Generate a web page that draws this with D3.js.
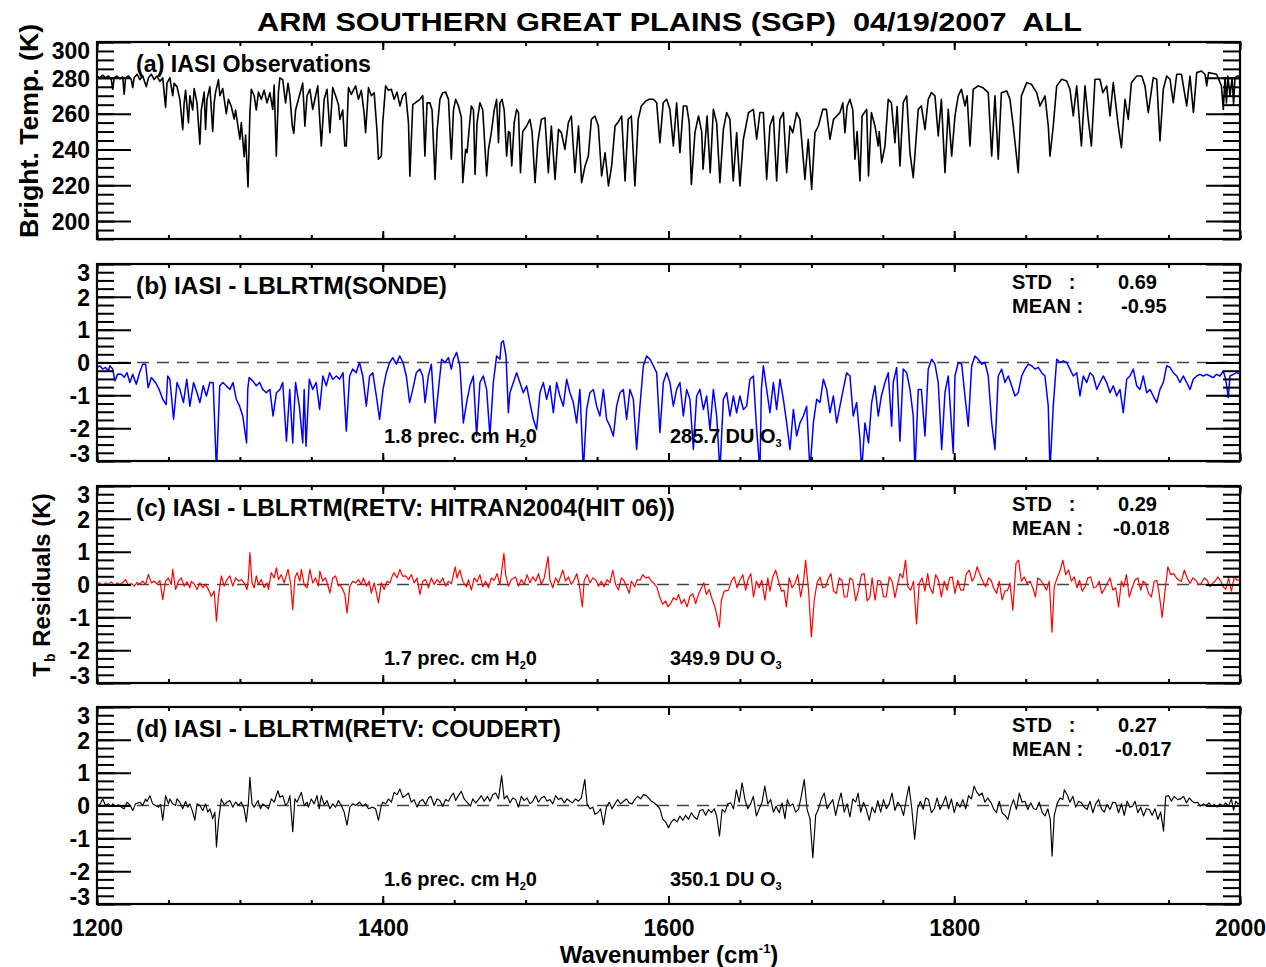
<!DOCTYPE html>
<html><head><meta charset="utf-8">
<script src="https://cdn.jsdelivr.net/npm/d3@7"></script>
<style>
html,body{margin:0;padding:0;background:#fff;}
svg{display:block;font-family:"Liberation Sans",Arial,Helvetica,sans-serif;font-weight:bold;}
</style></head><body>
<svg id="chart" width="1266" height="967"></svg>
<script>
// ---------------- DATA ----------------
const titleText = "ARM SOUTHERN GREAT PLAINS (SGP)  04/19/2007  ALL";
const wavenumberTicks = [1200, 1400, 1600, 1800, 2000];
const wavenumberDomain = [1200, 2000];
const wavenumberMinorStep = 50;
const tempTicks = [200, 220, 240, 260, 280, 300];
const tempDomain = [190, 300];
const tempMinorStep = 5;
const residualTicks = [-3, -2, -1, 0, 1, 2, 3];
const residualDomain = [-3, 3];
const residualMinorStep = 0.25;
const panelLabels = ["(a) IASI Observations", "(b) IASI - LBLRTM(SONDE)", "(c) IASI - LBLRTM(RETV: HITRAN2004(HIT 06))", "(d) IASI - LBLRTM(RETV: COUDERT)"];
const stdValues = [null, "0.69", "0.29", "0.27"];
const meanValues = [null, "-0.95", "-0.018", "-0.017"];
const waterVapor = [null, "1.8", "1.7", "1.6"];
const ozoneDU = [null, "285.7", "349.9", "350.1"];
const seriesColors = ["#000000", "#0000ff", "#ff0000", "#000000"];

// (a) IASI observed brightness temperature [wavenumber, K]
const obsSpectrum = [
[1200,281],[1202,280],[1204,281.5],[1206,280],[1208,281],[1210,279],[1211,273.6],[1212,280],[1214,281],[1216,279.5],[1218,280.5],[1219,270.8],[1220,280],[1222,281],[1224,279],[1225,274.5],[1226,280],[1228,282],[1230,279],[1232,281],[1234.5,275],[1236,280],[1238,282],[1240,279],[1242,281],[1244,278],[1246,280],[1248,263.5],[1249,277],[1251,280],[1253,270],[1254,277],[1256,275],[1258,268],[1260,251],[1261,266],[1262,273],[1264,255],[1265,270],[1267,262],[1268,274],[1270,266],[1272,243],[1273,262],[1275,272],[1276,251.2],[1277,268],[1279,275],[1281,250],[1282,266],[1283,272],[1285,279],[1286,270],[1288,274],[1290.5,260],[1292,268],[1294,264],[1296,257],[1297,262],[1300,245.7],[1301,255],[1303,236],[1304,248],[1305.7,219],[1307,260],[1308,273.6],[1310,270],[1311.5,262],[1313,272],[1315,268],[1317,273],[1319,266],[1321,271.7],[1323,262.4],[1324,276],[1325.5,236.3],[1327,272],[1328,280],[1330,279],[1332,266],[1333.7,277],[1335,270],[1336.7,253],[1337.7,249],[1339,262],[1341,268],[1344,277],[1345.5,253],[1347,270],[1349,273.6],[1351,262.4],[1353,270],[1354.5,275.5],[1357,242],[1359,268],[1361,273.6],[1363,249.4],[1365,274.5],[1367,270],[1369,265],[1370,256.8],[1372,262],[1373.4,242],[1374.5,241.9],[1376,274.5],[1378,270.8],[1381,275.5],[1383,268],[1385,273],[1387,260],[1388,249.4],[1390,274.5],[1392,270],[1394,271.7],[1396,250],[1397,234.5],[1399,236.3],[1400,255],[1402,275.5],[1404,273],[1406,273.6],[1408,268],[1410,272],[1412,264.3],[1414,270],[1416,271.7],[1418,255],[1419,225],[1421,265],[1423,266.1],[1426,268],
[1428,270],[1429.5,236.3],[1431,266],[1433,266.1],[1434.5,262],[1436.6,223.3],[1438,250],[1440,268],[1442,271.7],[1444,272],[1446,268],[1448,234.5],[1449.5,262],[1451,268],[1453,264.3],[1455,258],[1456,221.5],[1458,240],[1459,238.2],[1461,256],[1462,264.3],[1463.5,262],[1464.6,226.1],[1466,255],[1468,266.1],[1470,262],[1472.7,225.2],[1474,240],[1476,249.4],[1478,262],[1479.7,268],[1481,243.8],[1482,266],[1483.5,268],[1485,262],[1486.7,236.3],[1488,250],[1489,249.4],[1490.3,230.8],[1492,255],[1493.7,262.4],[1495,260.6],[1496.4,227],[1498,250],[1500.7,253.1],[1503,256.8],[1504.5,250],[1506.6,221.5],[1508.5,243.8],[1511,256.8],[1513.5,257.7],[1515.9,227],[1518,253.1],[1520.6,223.3],[1523,251.2],[1525,249.4],[1527.5,240],[1529.9,255],[1532,258.7],[1534.5,227],[1537,253.1],[1539.2,221.5],[1541.6,230.8],[1543.9,236.3],[1546,256.8],[1548.5,258.7],[1550.9,253.1],[1553.2,225.2],[1555.6,238.2],[1558,219.6],[1560.2,230.8],[1562.6,253.1],[1565,255.5],[1567.2,258.7],[1569.6,222.4],[1571.8,256.8],[1574,258.7],[1576.5,219.6],[1578.8,256.8],[1581,264.3],[1584,267],[1586.6,268],[1589.4,268],[1591.7,266.1],[1594,243.8],[1596.3,266.1],[1598.7,268],[1601,262.4],[1603.4,241.9],[1605.7,266.1],[1608,238.2],[1610.4,264.3],[1612.7,264.3],[1614.5,255],[1616,220.5],[1618.5,249.4],[1621,258.7],[1623.2,250],[1624.2,229],[1627,258.7],[1629.2,227],[1631.4,262.4],[1633.7,255],[1636,221.5],[1638.4,251.2],[1640.7,260.6],[1643,256.8],[1645.3,222.4],[1647.7,249.4],[1650,219.6],[1652.4,245.7],[1656,260.6],[1659.4,262.4],[1661.7,245.7],[1664,260.6],[1666.4,260.6],[1668.7,223.3],[1671,253.1],[1673.4,258.7],[1675.7,222.4],[1678,256.8],[1680.4,260.6],[1682.7,227],[1685,253.1],[1687,249.4],[1689.7,260.6],[1692,256.8],[1695.5,223.3],[1697.8,245.7],[1700.2,217.7],[1702.5,249.4],[1704.9,253.1],[1708,262.4],[1710.5,262.4],[1713,245.7],[1715.5,256.8],[1720,260.6],
[1722,266],[1723.5,249.4],[1725,264],[1727,268],[1729,262],[1730.5,234.5],[1732,250],[1734,222.4],[1735.5,258.7],[1738.7,262.4],[1740,225.2],[1742,260.6],[1744.5,253.1],[1746.8,241.9],[1747.5,250],[1749.2,232.6],[1751.5,241.9],[1753.8,268],[1756,266.1],[1758.5,243.8],[1760,264],[1762,230.8],[1764.3,266.1],[1766.7,269.9],[1769,238.2],[1771.3,224.2],[1774.8,262.4],[1777,264.3],[1779.5,251.2],[1781.8,268],[1784,271.7],[1786.5,269.9],[1788.8,247.5],[1791,268],[1793.5,227],[1795.8,262.4],[1798.2,236.3],[1800.5,258.7],[1802.8,269.9],[1805,273.6],[1807.5,264.3],[1809,270],[1811,241.9],[1813.3,273.6],[1816.8,275.5],[1820,274.5],[1823.8,271.7],[1826.2,236.3],[1828.5,269.9],[1830.8,234.5],[1833,271.7],[1836.7,272.7],[1839,268],[1841.3,253.1],[1844.8,227],[1847,269.9],[1850.7,277.3],[1854,276.4],[1857.7,271.7],[1860,264.3],[1863.5,269.9],[1865.8,253.1],[1867,236.3],[1869.3,253.1],[1871.7,275.5],[1875.2,279.2],[1878.7,278.2],[1881,273.6],[1883.3,258.7],[1885.7,275.5],[1889,241.9],[1891.5,275.5],[1893.8,256.8],[1896,241.9],[1898.5,279.2],[1902,279.2],[1904,271.7],[1906.7,275.5],[1909,258.7],[1911.3,277.3],[1914.8,253.1],[1917,241],[1919.5,268],[1921.8,256.8],[1924,277.3],[1927.7,281],[1931.2,281],[1933.5,275.5],[1935.8,260.6],[1939.3,280.1],[1941.7,279.2],[1944,244.7],[1946.3,273.6],[1948.7,281],[1951,279.2],[1953.3,266.1],[1955.7,282],[1959,282],[1962.7,264.3],[1965,281],[1967.4,260.6],[1969.7,282.9],[1973,283.8],[1975.5,282],[1976.7,275.5],[1978,282.9],[1983.6,282],[1987,275.5],[1988.3,262.4],[1989.5,280],[1990.5,266],[1991.5,281],[1993,270],[1994.5,280],[1995.5,265],[1996.5,280],[1998,281],[2000,281]
];

// (b) IASI - LBLRTM(SONDE) residual [wavenumber, K]
const sondeResidual = [
[1200,-0.15],[1202,-0.1],[1204,-0.2],[1206,-0.15],[1208,-0.26],[1209,-0.1],[1211,-0.2],[1212.6,-0.56],[1214.5,-0.35],[1217,-0.36],[1219,-0.45],[1221,-0.31],[1223,-0.61],[1225,-0.36],[1227.5,-0.66],[1229.8,-0.31],[1232,-0.05],[1234,-0.05],[1235.8,-0.77],[1238,-0.46],[1241,-0.61],[1243.5,-0.82],[1246,-1.12],[1248.4,-1.28],[1249.5,-0.41],[1251,-0.51],[1253.6,-1.73],[1256,-0.61],[1258,-0.82],[1260.5,-1.22],[1262.8,-0.51],[1265,-1.33],[1267.6,-0.61],[1270,-0.92],[1272,-1.22],[1274.3,-0.71],[1276.6,-1.02],[1279,-0.61],[1281.3,-0.61],[1283.6,-3.3],[1285.9,-0.71],[1288,-0.61],[1290.5,-0.71],[1293,-0.82],[1295.2,-0.61],[1297.5,-1.12],[1299.8,-1.33],[1302,-1.63],[1304.7,-2.45],[1305.5,-0.82],[1306.5,-0.46],[1309,-0.56],[1311.5,-0.71],[1313.8,-0.61],[1316,-0.82],[1318.5,-0.92],[1321,-0.82],[1323.2,-1.63],[1325.6,-0.92],[1328,-0.82],[1330,-0.61],[1332.6,-2.4],[1334.9,-0.82],[1337,-2.45],[1338,-1.43],[1339,-0.61],[1341.6,-1.33],[1344,-2.45],[1345,-0.82],[1346.3,-2.55],[1348.6,-0.51],[1351,-0.82],[1353.4,-0.61],[1355.8,-1.43],[1358.1,-0.41],[1360.5,-0.71],[1362.8,-0.31],[1365,-0.51],[1367.5,-0.41],[1369.8,-0.51],[1372.2,-0.31],[1374.5,-2.09],[1376.8,-0.41],[1379,-0.2],[1381.4,-0.31],[1383.7,0],[1386,-0.41],[1388.5,-1.33],[1390.8,-0.41],[1393,-0.31],[1395.5,-1.02],[1397.8,-1.73],[1400.2,-0.82],[1402.5,-0.31],[1404.8,0],[1407,0.15],[1409.5,-0.05],[1411.8,0.2],[1414.2,0],[1416.5,-0.41],[1418.8,-1.22],[1421,-0.82],[1423.5,-0.31],[1426,-0.2],
[1428,-0.41],[1429.6,-1.22],[1431.9,-0.41],[1434,-0.05],[1436.6,-1.84],[1439,-0.82],[1441.2,0.1],[1443.6,0],[1446,0.15],[1448,-0.2],[1449.4,0.1],[1451.7,0.31],[1454,-0.1],[1456.4,-1.84],[1458.7,-1.22],[1461,-0.71],[1463.4,-0.41],[1465.7,-2.24],[1468,-0.61],[1470.4,-0.41],[1472.7,-0.82],[1475,-2.24],[1477.4,-0.61],[1479.7,0.2],[1482,0.1],[1483,0.61],[1484.4,0.66],[1486.3,0.2],[1487.9,-1.53],[1489,-0.92],[1491.4,-0.61],[1493.7,-0.31],[1496,-0.61],[1498.4,-0.92],[1500.7,-0.71],[1503,-1.22],[1505.4,-1.73],[1507.7,-2.04],[1510,-0.92],[1512.4,-0.61],[1514.7,-1.12],[1517,-0.71],[1519.4,-1.53],[1521.7,-0.61],[1524,-1.02],[1526.4,-1.33],[1528.7,-0.51],[1531,-0.92],[1533.4,-1.22],[1535.7,-1.84],[1538,-0.82],[1540.4,-3.3],[1542.7,-1.43],[1545,-0.92],[1547.4,-0.82],[1549.7,-1.33],[1552,-1.63],[1554.4,-0.82],[1556.7,-1.73],[1559,-1.94],[1561.4,-2.24],[1563.7,-1.33],[1566,-0.92],[1568.4,-0.82],[1570.7,-1.73],[1573,-0.82],[1575.4,-1.12],[1577.7,-2.65],[1580,-1.33],[1582.4,-0.1],[1584.7,0.2],[1587,0.1],[1589.4,-0.1],[1591.7,-0.31],[1594,-2.14],[1596.4,-0.61],[1598.7,-0.31],[1601,-0.61],[1603.4,-1.33],[1605.7,-0.82],[1608,-0.61],[1610.4,-1.63],[1612.7,-0.82],[1615,-1.12],[1617.4,-2.65],[1619.7,-1.02],[1622,-0.82],[1624.4,-1.43],[1626.7,-1.02],[1629,-2.04],[1631.4,-0.82],[1633.7,-1.63],[1636,-3.3],[1638.4,-1.12],[1640.7,-0.92],[1643,-1.63],[1645.4,-1.02],[1647.7,-1.53],[1650,-1.02],[1652.4,-1.43],[1654.7,-1.33],[1657,-0.51],[1659.4,-0.41],[1661.7,-2.04],[1664,-3.3],[1665,-0.82],[1666.4,-0.1],[1668.7,-0.82],[1671,-1.53],[1673.4,-0.61],[1675.7,-1.43],[1678,-0.51],[1680.4,-1.12],[1682.7,-1.84],[1685,-2.65],[1687.4,-1.43],[1689.7,-2.24],[1692,-1.84],[1694.4,-1.63],[1696.7,-1.33],[1699,-3.3],[1701.4,-1.84],[1703.7,-1.12],[1706,-1.22],[1708.4,-0.51],[1710.7,-0.82],[1713,-1.53],[1715.4,-1.02],[1717.7,-1.84],[1720,-1.33],
[1722.3,-0.82],[1724.7,-0.31],[1727,-0.41],[1729.3,-1.63],[1731.7,-1.22],[1734,-2.35],[1735.2,-3.3],[1737.5,-1.84],[1740,-2.45],[1742.2,-1.22],[1744.5,-0.71],[1746.8,-1.63],[1749,-1.02],[1751.5,-0.61],[1753.8,-0.31],[1756.2,-1.94],[1757.3,-0.61],[1759.7,-0.15],[1762,-2.4],[1764.3,-0.2],[1766.7,-0.31],[1769,-0.82],[1771.3,-1.63],[1772.5,-3.3],[1774.8,-0.82],[1777,-0.82],[1779.5,-2.24],[1781.8,-0.2],[1784.2,0.1],[1786.5,-0.05],[1788.8,-0.61],[1791.2,-2.65],[1793.5,-0.92],[1795.8,-0.41],[1799.3,-2.76],[1800.5,-0.41],[1802.8,0],[1805.2,-0.05],[1807.5,-1.02],[1809.8,-1.94],[1812.2,-0.1],[1814.5,0.2],[1816.8,0.1],[1819.2,-0.05],[1821.5,0],[1823.8,-0.41],[1826.2,-1.84],[1828.5,-2.65],[1830.8,-0.41],[1833.2,-0.2],[1835.5,-0.61],[1837.8,-0.41],[1840.2,-0.71],[1842.5,-1.02],[1844.8,-0.92],[1847.2,-0.41],[1849.5,-0.2],[1851.8,-0.05],[1854.2,-0.1],[1856.5,-0.2],[1858.8,-0.15],[1861.2,-0.31],[1863.5,-0.41],[1865.8,-1.33],[1867,-3.3],[1869.3,-1.33],[1871.7,0.1],[1874,0],[1876.3,0.05],[1878.7,0],[1881,-0.2],[1883.3,-0.41],[1885.7,-0.31],[1888,-1.02],[1890.3,-0.41],[1892.7,-0.61],[1895,-0.31],[1897.3,-0.41],[1899.7,-0.82],[1902,-0.61],[1904.3,-0.41],[1906.7,-0.61],[1909,-0.92],[1911.3,-0.71],[1913.7,-1.02],[1916,-0.82],[1918.3,-1.53],[1920.7,-0.51],[1923,-0.41],[1925.3,-0.2],[1927.7,-0.71],[1930,-0.82],[1932.3,-0.41],[1934.7,-0.92],[1937,-0.82],[1939.3,-1.02],[1941.7,-1.22],[1944,-0.82],[1946.3,-0.61],[1948.7,-0.1],[1951,-0.15],[1953.3,-0.31],[1955.7,-0.41],[1958,-0.61],[1960.3,-0.41],[1962.7,-0.61],[1965,-0.82],[1967.3,-0.51],[1969.7,-0.41],[1972,-0.36],[1974.3,-0.41],[1976.7,-0.36],[1979,-0.41],[1981.3,-0.46],[1983.6,-0.36],[1986,-0.41],[1988.3,-0.26],[1990,-0.51],[1991.8,-1.07],[1993,-0.41],[1995.3,-0.36],[1997.7,-0.31],[2000,-0.36]
];

// (c) IASI - LBLRTM(RETV: HITRAN2004) residual [wavenumber, K]
const hitranResidual = [
[1200,0.02],[1202,0.05],[1204,-0.02],[1206,0.05],[1208,0],[1210,0.08],[1212,-0.03],[1214,0.05],[1216,0],[1218,0.06],[1220,0.15],[1222,-0.02],[1224,0.03],[1226,-0.05],[1228,0.06],[1230,0.02],[1232,0.1],[1234,0],[1236,0.31],[1238,0.05],[1240,0.1],[1242,0.02],[1244,0.12],[1246,-0.46],[1248,0.1],[1250,0.2],[1252,0],[1253,0.46],[1255,-0.15],[1257,0.1],[1259,0.2],[1261,-0.05],[1263,0.08],[1265,-0.1],[1266,0.1],[1268,0.02],[1270,-0.15],[1272,0.05],[1274,-0.1],[1276,0],[1278,-0.15],[1280,-0.36],[1282,-0.2],[1283.6,-1.12],[1285,-0.36],[1287,0.26],[1289,-0.05],[1291,0.15],[1293,0.26],[1295,-0.05],[1297,0.2],[1299,0.1],[1301,0.15],[1303,0.05],[1305,-0.15],[1306,0.2],[1307,0.97],[1308.5,0.05],[1310,-0.1],[1311.5,0.26],[1313,0],[1315,0.15],[1317,-0.1],[1319,0.05],[1320,-0.15],[1322,0.36],[1324,0.2],[1325.6,0.51],[1327,0.15],[1329,0.3],[1331,0.05],[1333.7,0.46],[1335.5,0.05],[1337,-0.77],[1338.5,0.2],[1340,0.36],[1342,0.1],[1343,0.46],[1345,0],[1347,-0.1],[1349,0.46],[1351,0.05],[1353,0.2],[1355,-0.05],[1356,0.41],[1358,0.1],[1360,0.2],[1362,-0.1],[1363,-0.26],[1365,0.2],[1367,0.26],[1369,-0.05],[1370,0],[1372,-0.15],[1373.5,-0.31],[1375,-0.87],[1377,-0.05],[1379,0.1],[1381,0.05],[1383,0.15],[1385,0],[1386.5,0.2],[1388.5,-0.05],[1390.5,0.1],[1392,-0.26],[1394,0.05],[1395,-0.15],[1397,-0.56],[1399,0.05],[1401,-0.15],[1403,0.1],[1405,0.05],[1407,0.3],[1408,0.36],[1410,0.2],[1412,0.46],[1414,0.25],[1416,0.26],[1418,0.15],[1420,0.3],[1422,0.05],[1424,0.2],[1426,-0.3],[1428,0.1],[1430,0.15],[1432,-0.1],[1434,0.2],[1436,0],[1438,0.15],[1440,0.05],[1442,0.2],[1444,-0.05],[1446,0.1],[1448,0.02],[1450.7,0.54],[1452,0.2],[1454,0.44],[1456,0.1],[1458.5,-0.07],[1460,0.15],[1462,-0.17],[1464,0.2],[1466,0.08],[1468,0.3],[1470,-0.07],[1472,0.1],[1474,-0.1],[1476,0.2],[1478,0.13],[1480,0.33],[1482,0],[1484.8,0.95],[1486,0.3],[1488,-0.05],[1490,0.15],[1493,0.23],[1495,-0.05],[1497,0.15],[1499,0],[1501,0.3],[1503,0.05],[1505,0.23],[1507,0.1],[1509,0.33],[1511,0],[1513,0.2],[1515.7,0.85],[1517,0.13],[1519,-0.1],[1521,0.2],[1523,0.05],[1526,0.44],[1528,0.1],[1530,0.23],[1532,0],[1534,0.15],[1535.8,0.33],[1537.5,0],[1539.7,-0.68],[1541,0.13],[1543,0.3],[1545,0.05],[1547,0.2],[1549.3,0.13],[1551,-0.05],[1553,0.1],[1555,-0.07],[1557,0.15],[1559,0.05],[1561,0.44],[1563,0],[1565,-0.17],[1567,0.2],[1568.7,0.13],[1571,-0.1],[1572.5,-0.27],[1574,0.1],[1576.4,-0.07],[1578,0.15],[1580,0.13],[1582,0.3],[1584,0.2],[1586,0.23],[1588,0.1],[1590,0.03],[1592,-0.1],[1593.8,-0.38],[1596,-0.6],[1598,-0.5],[1599.5,-0.68],[1601.5,-0.58],[1603.5,-0.4],[1605.5,-0.47],[1607,-0.3],[1609,-0.58],[1611,-0.45],[1613,-0.68],[1615,-0.35],[1617,-0.28],[1619,-0.58],[1621,-0.3],[1622.5,-0.15],[1624.7,0.05],[1626.5,-0.3],[1628.5,-0.15],[1630.5,-0.45],[1632.5,-0.68],[1635.6,-1.3],[1637,-0.48],[1639,-0.2],[1642,-0.17],[1644,0.1],[1646,0.23],[1648,-0.1],[1650,0.13],[1652,0.3],[1654,-0.17],[1656,0.2],[1657.6,0.33],[1659.5,-0.38],[1661.5,0.1],[1663.5,-0.1],[1665.3,0.13],[1667.5,-0.48],[1669.5,0.2],[1671,-0.2],[1673,0.23],[1675,0.44],[1677,0.1],[1679,-0.2],[1680.8,-0.17],[1682.5,-0.68],[1684.5,0.2],[1686.5,-0.1],[1688.5,0.03],[1690.5,0.3],[1692.5,-0.38],[1694.5,0.1],[1696,0.74],[1698,-0.17],[1700,-1.6],[1702,-0.48],[1704,0.05],[1706,0.23],[1708,-0.1],[1710,-0.07],[1712,0.2],[1713.7,0.33],[1715.5,-0.2],[1717.5,-0.27],[1719.5,0.2],[1721.4,0.13],[1723,-0.38],[1725,-0.38],[1727,0.2],[1729,0.13],[1731,-0.5],[1733,-0.17],[1735,0.3],[1737,0.33],[1739,-0.5],[1741,-0.38],[1742.5,0.2],[1744.6,-0.48],[1746.5,0.13],[1748.5,0.1],[1750.5,-0.38],[1752.4,-0.38],[1754.5,0.23],[1756.5,0.1],[1758.5,-0.4],[1760,-0.07],[1762,0.33],[1764,0.2],[1765.9,0.74],[1767.5,-0.07],[1769.5,-0.17],[1771.5,0.1],[1773.6,-1.2],[1775.5,0.03],[1777.5,0.2],[1779.5,-0.2],[1781.4,0.33],[1783,-0.1],[1785,-0.27],[1787,0.3],[1789,0.13],[1791,-0.38],[1793,0.1],[1795,-0.17],[1796.8,0.2],[1798.7,0.23],[1800.5,-0.27],[1802.5,0.13],[1804.5,-0.17],[1806.5,-0.17],[1808.5,0.33],[1810.5,0.44],[1812.5,0.1],[1814.2,0.23],[1816,0.54],[1818,0.3],[1820,0.1],[1822,-0.07],[1824,0.2],[1825.8,0.13],[1827.5,-0.1],[1829.7,-0.27],[1831.5,0.1],[1833.5,-0.47],[1835.5,-0.2],[1837.4,-0.17],[1839,0.05],[1841,-0.78],[1843.2,0.64],[1845,0.74],[1847,0.1],[1849,0.23],[1851,0.03],[1853,0.1],[1855,-0.1],[1856.8,-0.38],[1858.5,0.2],[1860.5,0.13],[1862.5,0],[1864.5,-0.17],[1866.5,0.1],[1868.4,-1.45],[1870,-0.07],[1872,0.2],[1874.2,0.44],[1876,0.74],[1878,0.3],[1880,0.44],[1882,0.1],[1884,0.23],[1886,-0.1],[1887.7,0.13],[1889.5,-0.2],[1891.5,-0.07],[1893.5,0.2],[1895.5,0.23],[1897.5,-0.1],[1899.5,-0.07],[1901.5,0.1],[1903.2,-0.27],[1905,-0.15],[1907,0.03],[1909,0.2],[1911,-0.17],[1913,-0.1],[1915,-0.68],[1917,0.1],[1918.6,-0.07],[1920.5,0.3],[1922.5,-0.38],[1924.5,-0.1],[1926.4,0.13],[1928.5,0.2],[1930.5,-0.17],[1932.2,0.1],[1934,0.03],[1936,-0.27],[1938,-0.38],[1940,0.1],[1941.8,0.13],[1943.5,-0.3],[1945.5,-1.0],[1947.5,-0.2],[1949.5,0.54],[1951.5,0.3],[1953.5,0.33],[1955.5,0.2],[1957.3,0.13],[1959,0.1],[1961,0.44],[1963,0.2],[1965,0.03],[1967,0.2],[1969,0.13],[1971,0],[1972.8,0.03],[1975,0.2],[1977,0.13],[1979,-0.07],[1980.5,0.03],[1982.5,0.1],[1984.5,0.23],[1986.5,0.1],[1988.2,-0.07],[1990,-0.15],[1992,0.2],[1994,-0.2],[1996,0.23],[1998,0.13],[2000,0.15]
];

// (d) IASI - LBLRTM(RETV: COUDERT) residual [wavenumber, K]
const coudertResidual = [
[1200,0],[1202,0.03],[1204,0.2],[1206,0],[1208,0.05],[1210,-0.02],[1211,0.05],[1213,-0.03],[1215,0.02],[1217,-0.05],[1219,-0.1],[1221,0.1],[1223,0.02],[1225,-0.15],[1227,0.05],[1230,0.1],[1232,0],[1234,0.2],[1235,0.12],[1237,0.3],[1239,0.05],[1241,0],[1243,-0.05],[1244.5,0.03],[1246,-0.45],[1248,0.3],[1250,0.05],[1251,0.2],[1253,0.05],[1255,0],[1256,0.2],[1258,0.1],[1260,-0.1],[1262,0.12],[1263.5,-0.05],[1265,0.05],[1267,-0.2],[1268.5,-0.45],[1270,0.05],[1272,0],[1274,-0.15],[1276,0.05],[1277.5,-0.2],[1279,-0.1],[1281,-0.4],[1282.5,-0.2],[1283.6,-1.26],[1285,-0.5],[1287,0.2],[1289,0.02],[1291,0.1],[1293,0.15],[1295,-0.05],[1297,0.1],[1299,0],[1301,0.1],[1303,-0.1],[1304.5,-0.5],[1306,0.1],[1307,0.86],[1308.5,0.05],[1310,-0.05],[1312.7,0.15],[1314.5,-0.1],[1316,0.05],[1318,-0.02],[1320,-0.1],[1322,0.2],[1324,0.1],[1326.6,0.45],[1328,0.25],[1330,0.3],[1332,0],[1333.7,0.1],[1335,0.3],[1337,-0.8],[1338.5,0.2],[1340,0.1],[1343,0.4],[1345,0],[1347,0.1],[1348,-0.05],[1350,0.2],[1352,0.05],[1354,0.3],[1355.5,-0.1],[1357,0.3],[1359,0.02],[1361,0.15],[1363,-0.1],[1365,0.05],[1367,-0.05],[1369,0.15],[1371,0],[1373,-0.2],[1375,-0.6],[1377,-0.05],[1379,0.05],[1381,0],[1383.7,0.1],[1386,-0.02],[1388,0.05],[1390,-0.1],[1393,-0.05],[1395,-0.1],[1397,-0.45],[1399,0],[1400,0.1],[1402,0.05],[1404,0.2],[1406,0.1],[1408,0.4],[1410,0.33],[1412,0.5],[1414,0.25],[1416,0.3],[1418,0.38],[1420,0.1],[1422,0.18],[1424,-0.05],[1426,0.13],[1428,0.18],[1430,0.03],[1432,0.23],[1433.7,0.28],[1436,0],[1438,0.2],[1440,0.15],[1442,-0.02],[1444,0.18],[1446,0.13],[1448,0.3],[1449.5,0.38],[1451,0.15],[1453,0.3],[1455,0.43],[1457,0.2],[1459,0.1],[1461.4,-0.02],[1463,0.2],[1465,0.08],[1467,0.18],[1469,0.3],[1471,0.13],[1473.3,0.28],[1475,0.13],[1477,0.33],[1479,0.38],[1481,0.2],[1483.2,0.91],[1485,0.2],[1487,0.3],[1489,0.08],[1491,0.23],[1493,0.18],[1495,-0.05],[1497,0.28],[1499,0.15],[1501,0.23],[1503,0.05],[1505,0.13],[1507,0.3],[1509,0.1],[1511,0.23],[1513,0.28],[1515,0.13],[1517,0.18],[1519,0.05],[1521,0.3],[1523,0.18],[1525,0.23],[1527,0.08],[1529,0.2],[1531,0.13],[1532.7,0.08],[1535,0.2],[1537,0.13],[1539,0.23],[1541.4,0.79],[1543,0.05],[1545,-0.1],[1547,-0.05],[1548.5,-0.27],[1550.5,-0.22],[1552.5,-0.1],[1554.5,-0.58],[1556.5,-0.05],[1558.5,0.1],[1560.5,-0.1],[1562.5,0.05],[1564.4,0.18],[1566.5,0.05],[1568.5,0.13],[1570.5,0.2],[1572.5,0.08],[1574.5,0.05],[1576.3,0.18],[1578.5,0.28],[1580.5,0.2],[1582.5,0.33],[1584.5,0.3],[1586,0.23],[1588,0.13],[1590,0.08],[1592,0],[1594,-0.1],[1596,-0.42],[1598,-0.5],[1600,-0.68],[1602,-0.5],[1604,-0.42],[1606,-0.5],[1608,-0.32],[1610,-0.45],[1612,-0.3],[1614,-0.42],[1616,-0.22],[1618,-0.35],[1620,-0.42],[1622,-0.15],[1624,-0.12],[1626,-0.3],[1628,-0.12],[1630,-0.22],[1632,-0.1],[1633.7,-0.32],[1635.7,-0.93],[1637.5,-0.12],[1639.5,-0.2],[1641.5,0.05],[1643.6,0.08],[1645.5,-0.1],[1647.5,0.48],[1649.5,0.1],[1651.5,0.69],[1653.5,0.18],[1655.5,-0.1],[1657.5,0.05],[1659.4,0.28],[1661.5,-0.32],[1663.5,-0.1],[1665.5,0.1],[1667.4,0.59],[1669.5,0.05],[1671.5,0.18],[1673.5,-0.2],[1675.3,-0.02],[1677.5,-0.22],[1679.5,0.08],[1681.5,-0.4],[1683.2,0.18],[1685,-0.02],[1687,0.05],[1689,-0.2],[1691,-0.12],[1693,0.3],[1695,0.79],[1697,-0.12],[1699,-0.4],[1701,-1.59],[1703,-0.3],[1705,-0.1],[1707,0.2],[1709,0.38],[1711,-0.1],[1713,0.05],[1715,0.18],[1717,-0.3],[1719,0.1],[1720.8,0.38],[1723,-0.2],[1725,0.05],[1727,-0.35],[1729,0.2],[1731,0.1],[1732.7,0.38],[1734.5,-0.2],[1736.5,0.1],[1738.5,-0.12],[1740.5,-0.45],[1742.5,-0.05],[1744.5,-0.22],[1746.5,0.15],[1748.5,-0.2],[1750.5,0.18],[1752.5,-0.1],[1754.5,0.05],[1756.4,0.38],[1758.5,-0.15],[1760.5,0.1],[1762.5,-0.02],[1764.5,-0.3],[1766.5,0.2],[1768.3,0.59],[1770.3,-0.1],[1772.3,-1.03],[1774.3,-0.1],[1776.3,0.13],[1778.3,-0.12],[1780,0.23],[1782,0.18],[1784,-0.22],[1786,-0.1],[1788,0.23],[1790,-0.12],[1792,0.05],[1794,0.28],[1796,-0.1],[1798,0.2],[1800,-0.22],[1802,0.1],[1804,-0.05],[1806,0.18],[1808,-0.1],[1810,0.3],[1812,0.2],[1813.9,0.59],[1815.5,0.43],[1817.5,0.3],[1819.5,0.38],[1821.5,0.1],[1823.5,0.23],[1825.8,0.08],[1827.5,-0.1],[1829.5,-0.22],[1831.5,0.13],[1833.5,-0.22],[1835.5,-0.3],[1837.6,-0.42],[1839.5,-0.05],[1841.5,0.18],[1843.5,-0.12],[1845.5,0.38],[1847.5,0.1],[1849.5,0.13],[1851.5,-0.12],[1853.5,0.08],[1855.5,-0.1],[1857.4,-0.12],[1859.5,0.1],[1861.5,-0.2],[1863.5,-0.32],[1865.5,-0.1],[1867.2,-0.42],[1868.5,-1.54],[1870,-0.3],[1872,0.05],[1874,0.23],[1876,0.18],[1877,0.48],[1879,0.33],[1881,0.1],[1883,0.28],[1885,-0.05],[1887,0.13],[1889,0.08],[1891,-0.05],[1893,-0.12],[1895,0.13],[1897,-0.22],[1899,0.05],[1901,0.18],[1903,-0.1],[1905,-0.2],[1907,0.03],[1909,-0.12],[1911,0.1],[1913,0.08],[1915,-0.22],[1917,0.05],[1919,-0.3],[1921,0.13],[1923,-0.05],[1924.8,-0.02],[1926.5,0.13],[1928.5,-0.22],[1930.5,-0.05],[1932.5,-0.32],[1934.5,-0.1],[1936.6,-0.12],[1938.5,-0.3],[1940.5,-0.1],[1942.5,-0.42],[1944.5,-0.2],[1946.5,-0.78],[1948,0.28],[1950,0.3],[1952,0.13],[1954,0.28],[1956.4,0.18],[1958.5,0.2],[1960.5,0.28],[1962.5,0.08],[1964.5,0.23],[1966.5,0.13],[1968.3,0.08],[1970.3,0.1],[1972.3,-0.02],[1974.3,0.05],[1976.3,0],[1978.3,0.08],[1980,-0.02],[1982,0.03],[1984,-0.05],[1986,0.05],[1988,-0.02],[1990,0.08],[1992,-0.02],[1994,0.2],[1995.5,-0.15],[1997,0.13],[1998.5,0.05],[2000,0.08]
];

const panelSeries = [obsSpectrum, sondeResidual, hitranResidual, coudertResidual];

// ---------------- LAYOUT ----------------
const plotLeft = 97, plotRight = 1240;
const panelTops = [42, 264, 486, 707];
const panelHeight = 197;
const statValueX = [[0,0],[1118,1121],[1118,1113],[1118,1115]];
const panelLabelWidths = [235, 311, 539, 425];
const lineWidths = [1.6, 1.5, 1.2, 1.15];
const FONT = '"Liberation Sans", Arial, Helvetica, sans-serif';

const svg = d3.select("#chart");
const x = d3.scaleLinear().domain(wavenumberDomain).range([plotLeft, plotRight]);
const xMinor = d3.range(wavenumberDomain[0], wavenumberDomain[1] + 0.001, wavenumberMinorStep);
const plainNumber = d => String(d);

function styleAxis(g) {
  g.select(".domain").remove();
  g.selectAll(".tick line").attr("stroke", "#000").attr("stroke-width", 2);
  g.attr("font-family", FONT).attr("font-weight", "bold");
}

panelSeries.forEach((data, i) => {
  const top = panelTops[i], bottom = top + panelHeight;
  const isTemp = i === 0;
  const domain = isTemp ? tempDomain : residualDomain;
  const majors = isTemp ? tempTicks : residualTicks;
  const minorStep = isTemp ? tempMinorStep : residualMinorStep;
  const minors = d3.range(domain[0], domain[1] + 1e-6, minorStep);
  const y = d3.scaleLinear().domain(domain).range([bottom, top]);

  const g = svg.append("g");
  g.append("clipPath").attr("id", "clip" + i)
    .append("rect").attr("x", plotLeft).attr("y", top).attr("width", plotRight - plotLeft).attr("height", panelHeight);

  if (!isTemp) {
    g.append("line").attr("x1", plotLeft).attr("x2", plotRight)
      .attr("y1", y(0)).attr("y2", y(0))
      .attr("stroke", "#444").attr("stroke-width", 1.3).attr("stroke-dasharray", "12,8");
  }

  const line = d3.line().x(d => x(d[0])).y(d => y(d[1]));
  g.append("path").datum(data).attr("d", line)
    .attr("fill", "none").attr("stroke", seriesColors[i]).attr("stroke-width", lineWidths[i])
    .attr("stroke-linejoin", "round").attr("clip-path", "url(#clip" + i + ")");

  g.append("g").attr("transform", `translate(${plotLeft},0)`)
    .call(d3.axisLeft(y).tickValues(minors).tickSize(-17).tickSizeOuter(0).tickFormat(""))
    .call(styleAxis);
  const left = g.append("g").attr("transform", `translate(${plotLeft},0)`)
    .call(d3.axisLeft(y).tickValues(majors).tickSize(-34).tickSizeOuter(0).tickPadding(7).tickFormat(plainNumber))
    .call(styleAxis);
  left.selectAll(".tick text")
    .attr("font-size", 23).attr("fill", "#000").attr("dy", "0.36em")
    .attr("y", d => d === domain[1] ? 8 : (d === domain[0] ? -8 : 0));

  g.append("g").attr("transform", `translate(${plotRight},0)`)
    .call(d3.axisRight(y).tickValues(minors).tickSize(-17).tickSizeOuter(0).tickFormat(""))
    .call(styleAxis);
  g.append("g").attr("transform", `translate(${plotRight},0)`)
    .call(d3.axisRight(y).tickValues(majors).tickSize(-34).tickSizeOuter(0).tickFormat(""))
    .call(styleAxis);

  g.append("g").attr("transform", `translate(0,${top})`)
    .call(d3.axisTop(x).tickValues(xMinor).tickSize(-4).tickSizeOuter(0).tickFormat(""))
    .call(styleAxis);
  g.append("g").attr("transform", `translate(0,${top})`)
    .call(d3.axisTop(x).tickValues(wavenumberTicks).tickSize(-8).tickSizeOuter(0).tickFormat(""))
    .call(styleAxis);
  g.append("g").attr("transform", `translate(0,${bottom})`)
    .call(d3.axisBottom(x).tickValues(xMinor).tickSize(-4).tickSizeOuter(0).tickFormat(""))
    .call(styleAxis);
  const bx = g.append("g").attr("transform", `translate(0,${bottom})`)
    .call(d3.axisBottom(x).tickValues(wavenumberTicks).tickSize(-8).tickSizeOuter(0)
      .tickFormat(i === 3 ? plainNumber : ""))
    .call(styleAxis);
  if (i === 3) {
    bx.selectAll(".tick text").attr("font-size", 23).attr("fill", "#000").attr("y", 31.5).attr("dy", 0);
  }

  g.append("rect").attr("x", plotLeft).attr("y", top).attr("width", plotRight - plotLeft).attr("height", panelHeight)
    .attr("fill", "none").attr("stroke", "#000").attr("stroke-width", 2.2);

  g.append("text").attr("x", 136).attr("y", top + 30).attr("font-size", 23)
    .attr("font-family", FONT).attr("font-weight", "bold")
    .attr("textLength", panelLabelWidths[i]).attr("lengthAdjust", "spacingAndGlyphs")
    .text(panelLabels[i]);

  if (!isTemp) {
    const st = g.append("g").attr("font-family", FONT).attr("font-weight", "bold").attr("font-size", 20);
    st.append("text").attr("x", 1012).attr("y", top + 25).style("white-space", "pre").text("STD   :");
    st.append("text").attr("x", 1012).attr("y", top + 48.5).style("white-space", "pre").text("MEAN :");
    st.append("text").attr("x", statValueX[i][0]).attr("y", top + 25).text(stdValues[i]);
    st.append("text").attr("x", statValueX[i][1]).attr("y", top + 48.5).text(meanValues[i]);

    const an = g.append("g").attr("font-family", FONT).attr("font-weight", "bold").attr("font-size", 20);
    const w = an.append("text").attr("x", 384).attr("y", bottom - 18.5);
    w.append("tspan").text(waterVapor[i] + " prec. cm H");
    w.append("tspan").attr("font-size", 11).attr("dy", 4).text("2");
    w.append("tspan").attr("dy", -4).text("0");
    const o = an.append("text").attr("x", 670).attr("y", bottom - 18.5);
    o.append("tspan").text(ozoneDU[i] + " DU O");
    o.append("tspan").attr("font-size", 11).attr("dy", 4).text("3");
  }
});

svg.append("text").attr("x", 257).attr("y", 31).attr("font-size", 26)
  .attr("font-family", FONT).attr("font-weight", "bold")
  .attr("textLength", 825).attr("lengthAdjust", "spacingAndGlyphs")
  .style("white-space", "pre").text(titleText);

svg.append("text").attr("transform", "translate(38,131) rotate(-90)")
  .attr("text-anchor", "middle").attr("font-size", 25)
  .attr("textLength", 214).attr("lengthAdjust", "spacingAndGlyphs")
  .attr("font-family", FONT).attr("font-weight", "bold").text("Bright. Temp. (K)");
const yt = svg.append("text").attr("transform", "translate(50,585) rotate(-90)")
  .attr("text-anchor", "middle").attr("font-size", 24)
  .attr("font-family", FONT).attr("font-weight", "bold");
yt.append("tspan").text("T");
yt.append("tspan").attr("font-size", 14).attr("dy", 5).text("b");
yt.append("tspan").attr("dy", -5).text(" Residuals (K)");

const xt = svg.append("text").attr("x", 669).attr("y", 963).attr("text-anchor", "middle")
  .attr("font-size", 24).attr("font-family", FONT).attr("font-weight", "bold");
xt.append("tspan").text("Wavenumber (cm");
xt.append("tspan").attr("font-size", 13).attr("dy", -10).text("-1");
xt.append("tspan").attr("dy", 10).text(")");
</script>
</body></html>
